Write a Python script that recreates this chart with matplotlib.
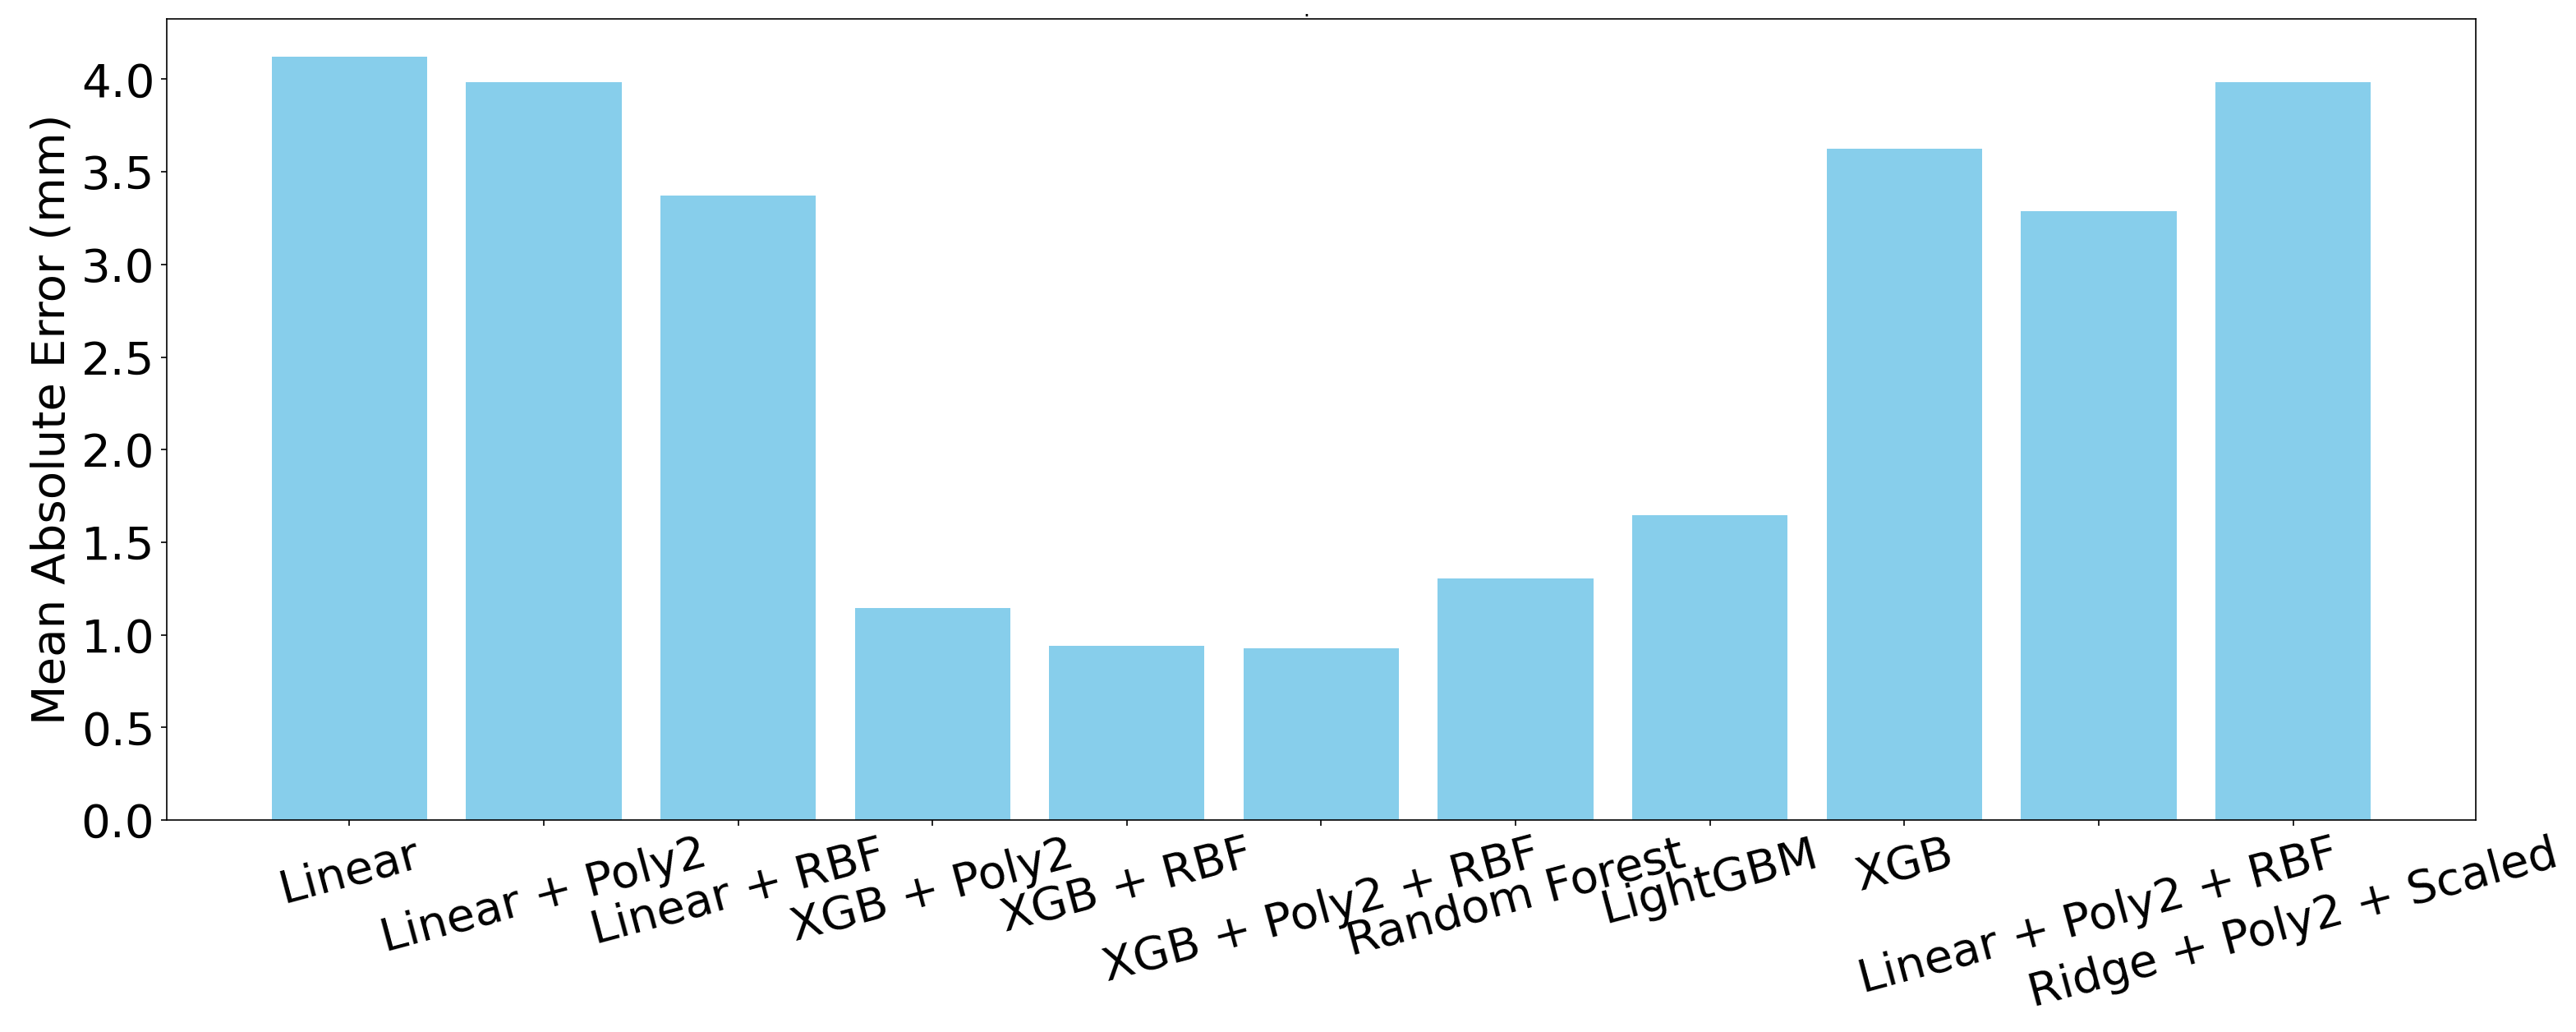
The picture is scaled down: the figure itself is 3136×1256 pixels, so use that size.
import matplotlib

matplotlib.use("Agg")
import matplotlib.pyplot as plt
from matplotlib.ticker import MultipleLocator, FormatStrFormatter

# Mean absolute error per model (mm)
models = [
    "Linear",
    "Linear + Poly2",
    "Linear + RBF",
    "XGB + Poly2",
    "XGB + RBF",
    "XGB + Poly2 + RBF",
    "Random Forest",
    "LightGBM",
    "XGB",
    "Linear + Poly2 + RBF",
    "Ridge + Poly2 + Scaled",
]
mae = [4.12, 3.985, 3.37, 1.145, 0.942, 0.927, 1.303, 1.647, 3.625, 3.286, 3.985]

BAR = "skyblue"
FS = 27

fig = plt.figure(figsize=(3136 / 150, 1256 / 150), dpi=150)
ax = fig.add_axes([0.0647, 0.2054, 0.8964, 0.7763])

ax.bar(models, mae, color=BAR)
ax.set_ylabel("Mean Absolute Error (mm)", fontsize=FS)
ax.yaxis.set_major_locator(MultipleLocator(0.5))
ax.yaxis.set_major_formatter(FormatStrFormatter("%.1f"))
ax.tick_params(axis="both", labelsize=FS)
ax.tick_params(axis="x", labelrotation=15)

# the reference carries a stray "." title just above the frame
fig.text(0.507, 0.984, ".", ha="center", va="baseline", fontsize=12)

fig.savefig("out.png", dpi=150)
plt.close(fig)
